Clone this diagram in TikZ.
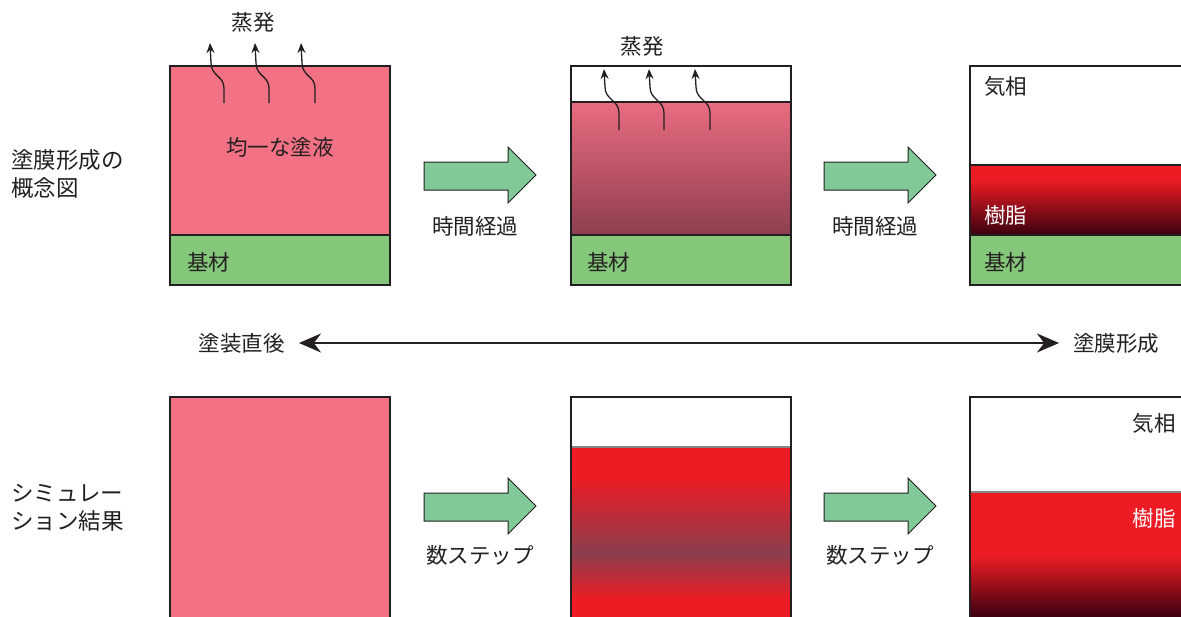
\documentclass[tikz,border=0pt]{standalone}
\usepackage{fontspec}
\setmainfont{Noto Sans CJK JP}
\usetikzlibrary{arrows.meta}
\definecolor{ink}{HTML}{231F20}
\definecolor{coat}{HTML}{F27185}
\definecolor{base}{HTML}{84C77A}
\definecolor{blockg}{HTML}{82C99A}
\definecolor{resin}{HTML}{ED1C24}
\definecolor{mid}{HTML}{8B3E4E}
\definecolor{coattop}{HTML}{E96C81}
\definecolor{coatbot}{HTML}{8E3E4E}
\definecolor{deep}{HTML}{3A0010}
\begin{document}
\begin{tikzpicture}[x=1pt,y=-1pt,
  txt/.style={font=\fontsize{21.5}{25}\selectfont, text=ink, inner sep=0pt},
  sidetxt/.style={font=\fontsize{22.5}{28}\selectfont, text=ink, inner sep=0pt, align=left, anchor=west},
  frame/.style={draw=ink, line width=2.4pt},
  sep/.style={draw=ink, line width=1.1pt},
  evap/.style={draw=ink, line width=1.3pt, -{Stealth[length=10pt,width=8pt]}},
  blockarrow/.style={fill=blockg, draw=ink, line width=1pt, line join=miter}]
\useasboundingbox (0,0) rectangle (1181,616);
\clip (0,0) rectangle (1181,616);
\fill[white] (0,0) rectangle (1181,616);

% ---------- side labels ----------
\node[sidetxt] (lab1) at (11,174) {塗膜形成の\\概念図};
\node[sidetxt] (lab2) at (11,508) {シミュレー\\ション結果};

% ---------- top row ----------
% box 1
\fill[coat] (170,66) rectangle (390,235);
\fill[base] (170,235) rectangle (390,285);
\draw[sep] (170,235) -- (390,235);
\draw[frame] (170,66) rectangle (390,285);
\node[txt] (t1) at (280,147) {均一な塗液};
\node[txt, anchor=west] (b1) at (187,262) {基材};
\node[txt] (ev1) at (253,22) {蒸発};
\foreach \dx in {0,45,91} {
  \draw[evap] (224+\dx,103) -- (224+\dx,88) .. controls (224+\dx,76) and (211+\dx,76) .. (211+\dx,63) -- (210+\dx,43);
}

% box 2
\shade[top color=coattop, bottom color=coatbot] (571,102) rectangle (791,235);
\fill[base] (571,235) rectangle (791,285);
\draw[sep] (571,102) -- (791,102);
\draw[sep] (571,235) -- (791,235);
\draw[frame] (571,66) rectangle (791,285);
\node[txt, anchor=west] (b2) at (587,262) {基材};
\node[txt] (ev2) at (642,46) {蒸発};
\foreach \dx in {0,45,91} {
  \draw[evap] (619+\dx,130) -- (619+\dx,113) .. controls (619+\dx,100) and (605+\dx,100) .. (605+\dx,87) -- (604+\dx,69);
}

% box 3
\fill[resin] (970,165) rectangle (1192,180);
\shade[top color=resin, bottom color=deep] (970,179.5) rectangle (1192,235);
\fill[base] (970,235) rectangle (1192,285);
\draw[sep] (970,165) -- (1192,165);
\draw[sep] (970,235) -- (1192,235);
\draw[frame] (970,66) rectangle (1192,285);
\node[txt, anchor=west] (g3) at (984,86) {気相};
\node[txt, anchor=west, text=white] (r3) at (984,215) {樹脂};
\node[txt, anchor=west] (b3) at (984,262) {基材};

% block arrows top
\foreach \ox in {0,400} {
  \draw[blockarrow] (424+\ox,162) -- (508+\ox,162) -- (508+\ox,147) -- (536+\ox,175)
     -- (508+\ox,203) -- (508+\ox,190) -- (424+\ox,190) -- cycle;
}
\node[txt] (k1) at (475,226) {時間経過};
\node[txt] (k2) at (875,226) {時間経過};

% ---------- time axis ----------
\node[txt, anchor=east] (ax1) at (285,343) {塗装直後};
\node[txt, anchor=west] (ax2) at (1073,343) {塗膜形成};
\draw[draw=ink, line width=1.3pt, {Stealth[length=22pt,width=19pt]}-{Stealth[length=22pt,width=19pt]}]
  ([xshift=14pt]ax1.east) -- ([xshift=-14pt]ax2.west);

% ---------- bottom row ----------
% box 1
\fill[coat] (170,397) rectangle (390,630);
\draw[frame] (170,397) rectangle (390,630);

% box 2
\fill[resin] (571,447) rectangle (791,478);
\shade[top color=resin, bottom color=mid] (571,477.5) rectangle (791,553);
\shade[top color=mid, bottom color=resin] (571,552.5) rectangle (791,600);
\fill[resin] (571,599.5) rectangle (791,630);
\draw[draw=ink!55, line width=1.1pt] (571,447) -- (791,447);
\draw[frame] (571,397) rectangle (791,630);

% box 3
\fill[resin] (970,492) rectangle (1192,556);
\shade[top color=resin, bottom color=deep] (970,555.5) rectangle (1192,618);
\draw[draw=ink!55, line width=1.1pt] (970,492) -- (1192,492);
\draw[frame] (970,397) rectangle (1192,630);
\node[txt, anchor=east] (g6) at (1176,423) {気相};
\node[txt, anchor=east, text=white] (r6) at (1176,518) {樹脂};

% block arrows bottom
\foreach \ox in {0,400} {
  \draw[blockarrow] (424+\ox,493) -- (508+\ox,493) -- (508+\ox,478) -- (536+\ox,506)
     -- (508+\ox,534) -- (508+\ox,521) -- (424+\ox,521) -- cycle;
}
\node[txt] (s1) at (480,555) {数ステップ};
\node[txt] (s2) at (880,555) {数ステップ};
\end{tikzpicture}
\end{document}
